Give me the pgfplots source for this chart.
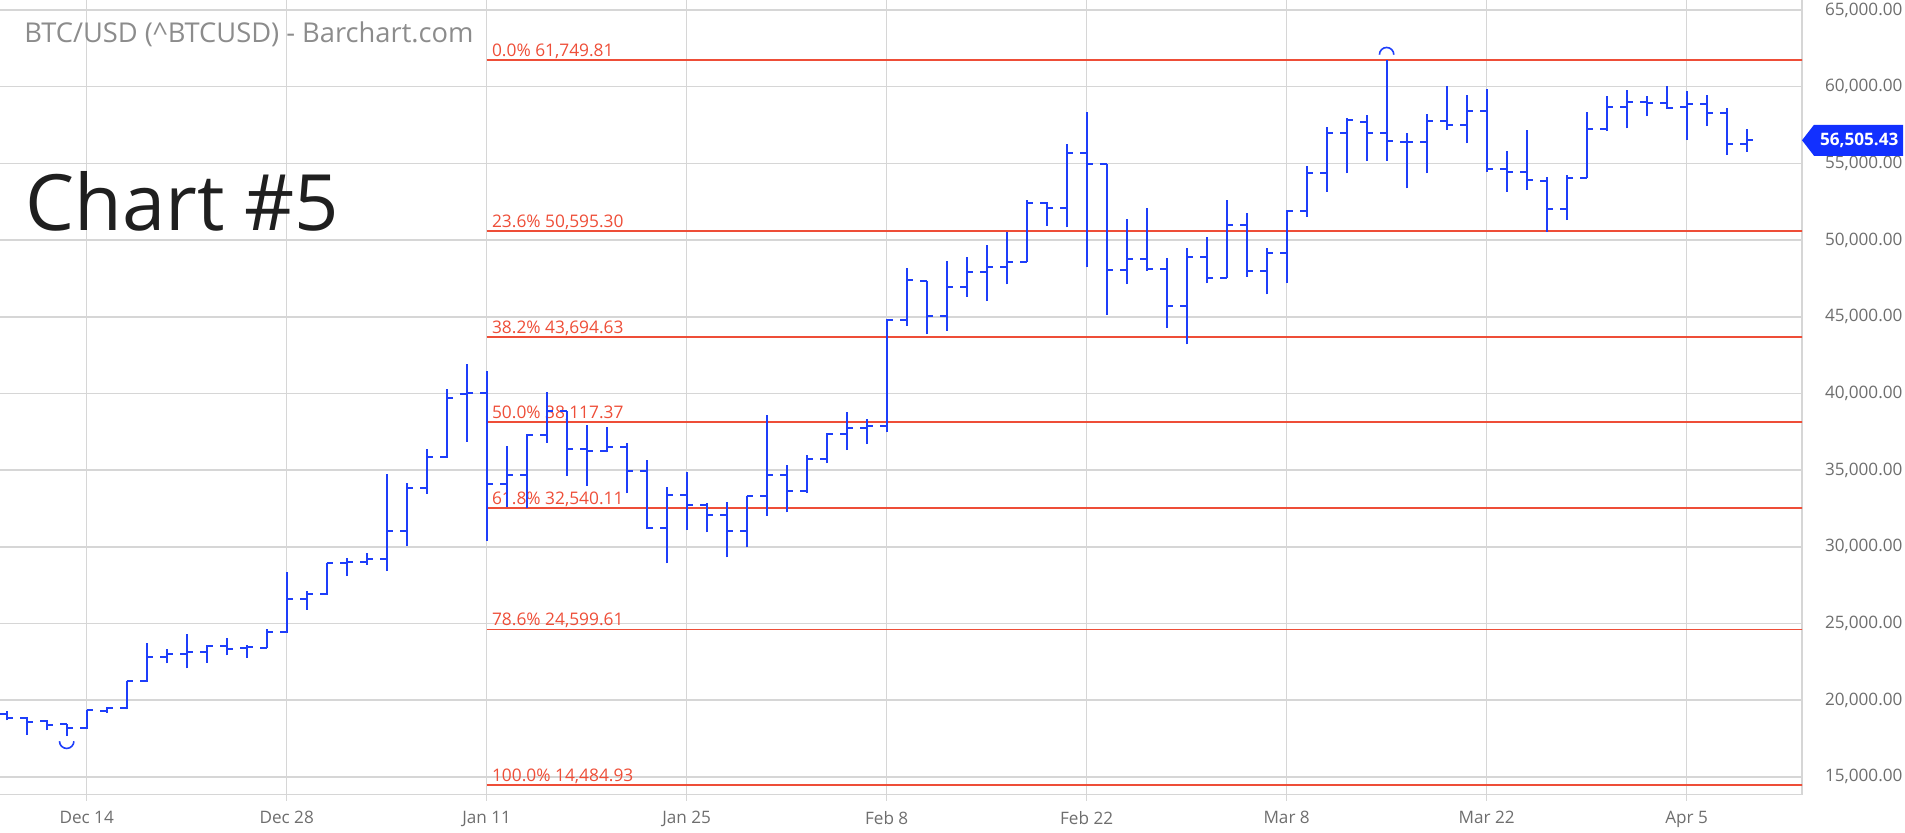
\documentclass[border=0pt]{standalone}
\usepackage{fontspec}
\setmainfont{Open Sans}
\usepackage{pgfplots}
\usepackage{pgfplotstable}
\pgfplotsset{compat=1.18}
\definecolor{barblue}{RGB}{30,62,250}
\definecolor{lastblue}{RGB}{18,48,255}
\definecolor{fibred}{RGB}{238,78,56}
\definecolor{gridgray}{RGB}{214,214,214}
\definecolor{labgray}{RGB}{110,110,110}
\definecolor{titlegray}{RGB}{140,140,140}

\pgfdeclareplotmark{otick}{\pgfpathmoveto{\pgfqpoint{-3.3bp}{0bp}}\pgfpathlineto{\pgfqpoint{0bp}{0bp}}\pgfusepathqstroke}
\pgfdeclareplotmark{ctick}{\pgfpathmoveto{\pgfqpoint{0bp}{0bp}}\pgfpathlineto{\pgfqpoint{3.3bp}{0bp}}\pgfusepathqstroke}
\pgfdeclareplotmark{cup}{\pgfpathmoveto{\pgfqpoint{-3.6bp}{-2.6bp}}\pgfpatharc{180}{360}{3.6bp}\pgfusepathqstroke}
\pgfdeclareplotmark{cap}{\pgfpathmoveto{\pgfqpoint{3.6bp}{2.6bp}}\pgfpatharc{0}{180}{3.6bp}\pgfusepathqstroke}

\pgfplotstableread{
i o h l c
-4 19065 19283 18674 18804
-3 18848 18870 17717 18587
-2 18630 18674 18022 18370
-1 18413 18413 17652 18152
0 18152 19348 18109 19326
1 19283 19543 19174 19457
2 19457 21239 19391 21239
3 21239 23696 21196 22826
4 22826 23304 22391 22978
5 22978 24283 22065 23152
6 23152 23587 22435 23522
7 23522 24065 22913 23304
8 23370 23587 22761 23457
9 23413 24609 23370 24457
10 24434 28358 24400 26592
11 26592 27137 25895 26919
12 26919 28947 26876 28947
13 28947 29274 28075 28990
14 28990 29601 28794 29230
15 29230 34724 28402 31018
16 31018 34136 30037 33809
17 33809 36403 33460 35880
18 35880 40283 35814 39695
19 39956 41918 36861 40000
20 40000 41439 30364 34070
21 34070 36577 32588 34681
22 34681 37340 32500 37297
23 37297 40065 36795 38823
24 38823 38850 34615 36359
25 36370 37957 33978 36261
26 36261 37826 36152 36478
27 36478 36739 33478 34913
28 34913 35652 31150 31217
29 31217 33913 28913 33391
30 33391 34891 31087 32739
31 32739 32826 30935 32087
32 32087 32935 29304 31043
33 31043 33326 29957 33283
34 33283 38587 32022 34674
35 34674 35326 32239 33652
36 33652 35978 33500 35717
37 35717 37391 35435 37348
38 37348 38761 36304 37717
39 37717 38326 36696 37870
40 37870 44850 37457 44783
41 44783 48152 44391 47391
42 47348 47348 43848 45043
43 45043 48630 44087 46913
44 46913 48913 46304 47935
45 47935 49674 46022 48261
46 48261 50543 47109 48587
47 48587 52609 48587 52391
48 52435 52500 50935 52065
49 52065 56261 50826 55652
50 55652 58326 48217 54957
51 54957 54957 45109 48043
52 48043 51370 47130 48761
53 48761 52065 48000 48109
54 48109 48848 44283 45696
55 45696 49457 43196 48913
56 48913 50217 47174 47500
57 47500 52609 47500 50957
58 50957 51783 47609 47978
59 47978 49457 46457 49130
60 49130 51957 47174 51913
61 51913 54826 51522 54348
62 54348 57348 53152 57000
63 57000 57935 54348 57826
64 57717 58152 55152 57000
65 57000 61749.81 55174 56478
66 56413 56957 53370 56413
67 56413 58217 54348 57783
68 57783 60043 57174 57500
69 57500 59457 56304 58413
70 58413 59848 54457 54609
71 54609 55826 53152 54457
72 54457 57174 53261 53913
73 53870 54130 50543 52000
74 52000 54239 51304 54022
75 54022 58370 54022 57217
76 57217 59391 57109 58696
77 58696 59783 57283 59022
78 59022 59391 58087 58913
79 58913 60043 58543 58630
80 58696 59739 56522 58870
81 58870 59457 57435 58304
82 58304 58587 55543 56239
83 56239 57239 55761 56505.43
}\ohlc

\begin{document}
\begin{tikzpicture}
\useasboundingbox (0,0) rectangle (952.5bp,416.5bp);
\begin{axis}[
  at={(0bp,19.25bp)}, anchor=south west,
  scale only axis, width=901bp, height=397.25bp,
  xmin=-4.335, xmax=85.77, ymin=13840, ymax=65655,
  axis x line*=bottom, axis y line*=right,
  axis line style={draw=gridgray, line width=0.8bp},
  xtick={0,10,...,80},
  xticklabels={Dec 14,Dec 28,Jan 11,Jan 25,Feb 8,Feb 22,Mar 8,Mar 22,Apr 5},
  ytick={15000,20000,...,65000},
  scaled y ticks=false,
  grid=major,
  major grid style={draw=gridgray, line width=0.8bp},
  x tick style={draw=gridgray, line width=0.8bp},
  y tick style={draw=none},
  tick align=outside,
  major tick length=3bp,
  /pgf/number format/assume math mode=true,
  yticklabel={\pgfmathprintnumber[fixed, fixed zerofill, precision=2, 1000 sep={,}, assume math mode=true]{\tick}},
  tick label style={font=\fontsize{8.6}{10}\selectfont, text=labgray},
  yticklabel style={anchor=west, xshift=5bp},
  xticklabel style={yshift=-2bp},
  clip=true,
]
% Fibonacci levels
\addplot[fibred, line width=1bp, forget plot] coordinates {(20,61749.81) (86,61749.81)};
\addplot[fibred, line width=0.85bp, forget plot] coordinates {(20,50595.30) (86,50595.30)};
\addplot[fibred, line width=0.85bp, forget plot] coordinates {(20,43694.63) (86,43694.63)};
\addplot[fibred, line width=0.85bp, forget plot] coordinates {(20,38117.37) (86,38117.37)};
\addplot[fibred, line width=0.85bp, forget plot] coordinates {(20,32540.11) (86,32540.11)};
\addplot[fibred, line width=0.85bp, forget plot] coordinates {(20,24599.61) (86,24599.61)};
\addplot[fibred, line width=1bp, forget plot] coordinates {(20,14484.93) (86,14484.93)};
\begin{scope}[every node/.style={anchor=base west, text=fibred, font=\fontsize{8.7}{10}\selectfont, inner sep=0pt, xshift=2.5bp, yshift=1.8bp}]
\node at (axis cs:20,61749.81) {0.0\% 61,749.81};
\node at (axis cs:20,50595.30) {23.6\% 50,595.30};
\node at (axis cs:20,43694.63) {38.2\% 43,694.63};
\node at (axis cs:20,38117.37) {50.0\% 38,117.37};
\node at (axis cs:20,32540.11) {61.8\% 32,540.11};
\node at (axis cs:20,24599.61) {78.6\% 24,599.61};
\node at (axis cs:20,14484.93) {100.0\% 14,484.93};
\end{scope}
% OHLC bars: high-low range
\addplot[draw=none, mark=none, forget plot,
  error bars/.cd, y dir=plus, y explicit, error mark=none,
  error bar style={draw=barblue, line width=1bp}]
  table[x=i, y=l, y error expr=\thisrow{h}-\thisrow{l}] {\ohlc};
% open ticks
\addplot[only marks, mark=otick, mark options={draw=barblue, line width=1bp}, forget plot]
  table[x=i, y=o] {\ohlc};
% close ticks
\addplot[only marks, mark=ctick, mark options={draw=barblue, line width=1bp}, forget plot]
  table[x=i, y=c] {\ohlc};
% swing markers
\addplot[only marks, mark=cup, mark options={draw=barblue, line width=0.8bp}, forget plot] coordinates {(-1,17652)};
\addplot[only marks, mark=cap, mark options={draw=barblue, line width=0.8bp}, forget plot] coordinates {(65,61749.81)};
\coordinate (lp) at (axis cs:85.77,56505.43);
\end{axis}
% last price tag
\fill[lastblue] (lp) -- ++(6bp,7.75bp) -- ++(44.5bp,0) -- ++(0,-15.5bp) -- ++(-44.5bp,0) -- cycle;
\node[text=white, font=\bfseries\fontsize{8.6}{10}\selectfont, inner sep=0pt] at ([xshift=28.6bp]lp) {56,505.43};
% titles
\node[anchor=base west, text=titlegray, font=\fontsize{13.7}{16}\selectfont, inner sep=0pt] at (12bp,395.2bp) {BTC/USD (\textasciicircum BTCUSD) - Barchart.com};
\node[anchor=base west, text=black!88, font=\fontsize{39}{47}\selectfont, inner sep=0pt] at (12.5bp,301bp) {Chart \#5};
\end{tikzpicture}
\end{document}
